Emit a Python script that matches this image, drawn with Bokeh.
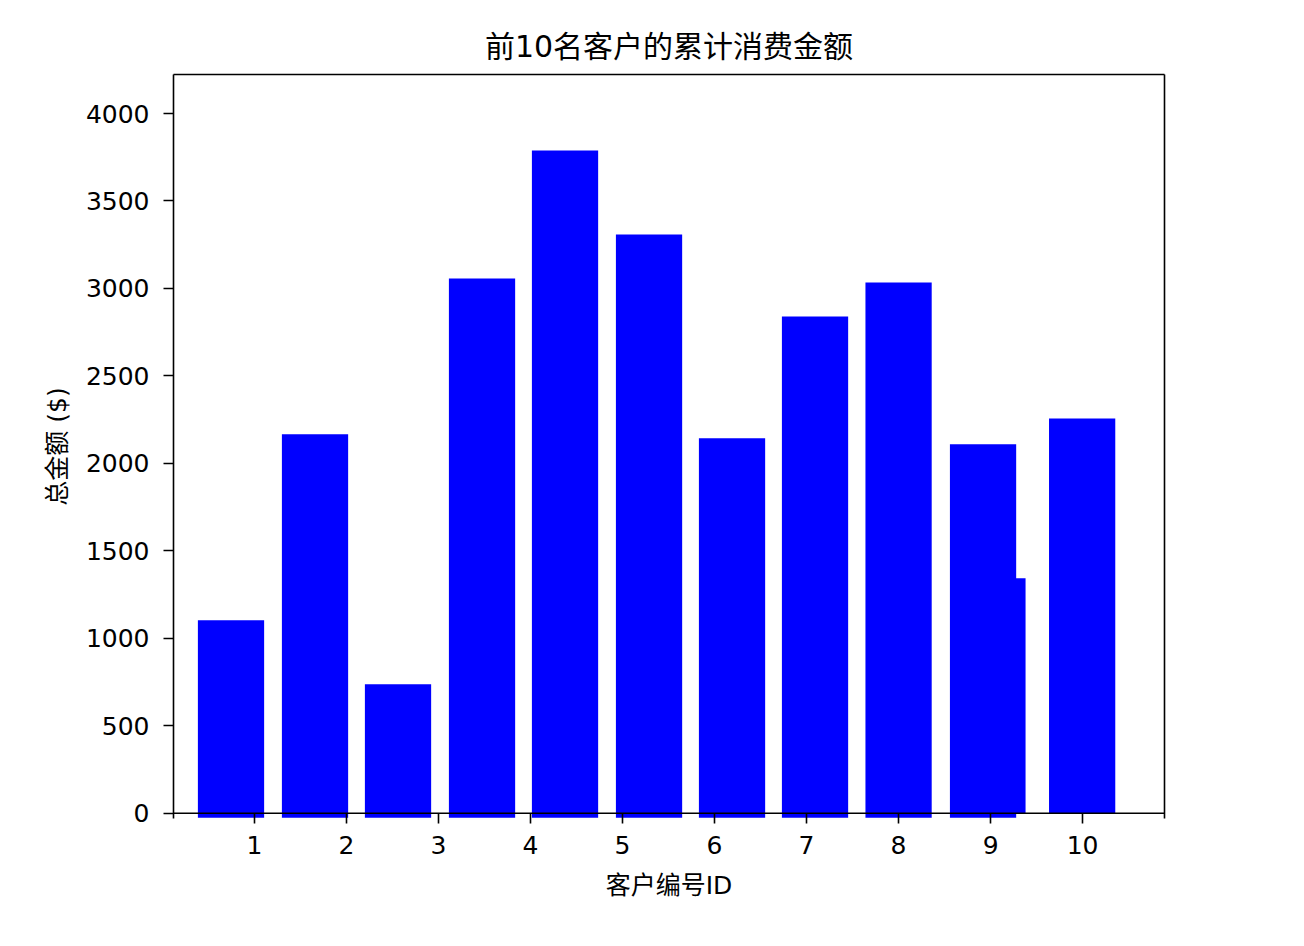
from bokeh.plotting import figure
from bokeh.models import Range1d, LinearAxis, FixedTicker, Span
from bokeh.embed import file_html
from bokeh.resources import INLINE

# ---- data ----
title_text = "前10名客户的累计消费金额"
x_label = "客户编号ID"
y_label = "总金额 ($)"

bar_x = [0.745, 1.658, 2.56, 3.473, 4.375, 5.288, 6.19, 7.092, 8.0, 8.918, 9.02, 9.995]
bar_value = [1103, 2166, 737, 3057, 3789, 3309, 2143, 2840, 3034, 2109, 1343, 2257]
neg_x = [0.745, 1.658, 2.56, 3.473, 4.375, 5.288, 6.19, 7.092, 8.0, 8.918]
neg_value = [-25, -25, -25, -25, -25, -25, -25, -25, -25, -25]

x_ticks = [1, 2, 3, 4, 5, 6, 7, 8, 9, 10]
y_ticks = [0, 500, 1000, 1500, 2000, 2500, 3000, 3500, 4000]

BAR_W = 0.72
FONT = "DejaVu Sans, Noto Sans CJK SC"
TXT = "#000000"

p = figure(
    output_backend="svg", toolbar_location=None,
    frame_width=991, frame_height=744,
    x_range=Range1d(0.12, 10.89), y_range=Range1d(-30, 4223),
    min_border_left=173, min_border_right=118, min_border_top=74, min_border_bottom=110,
    title=title_text,
)
p.outline_line_color = None
p.grid.visible = False
p.background_fill_color = "white"
p.border_fill_color = "white"

p.title.align = "center"
p.title.text_font = FONT
p.title.text_font_size = "30px"
p.title.text_font_style = "normal"
p.title.text_color = TXT
p.title.standoff = 21

p.vbar(x=bar_x, top=bar_value, bottom=0, width=BAR_W, fill_color="#0000ff", line_color=None)
p.vbar(x=neg_x, top=0, bottom=neg_value, width=BAR_W, fill_color="#0000ff", line_color=None)

# x axis line at zero
p.add_layout(Span(location=0, dimension="width", line_color="black", line_width=1.6))

for ax in (p.xaxis[0], p.yaxis[0]):
    ax.axis_line_width = 1.6
    ax.major_tick_line_width = 1.6
    ax.major_tick_out = 10
    ax.major_tick_in = 0
    ax.minor_tick_line_color = None
    ax.major_label_text_font = FONT
    ax.major_label_text_font_size = "25px"
    ax.major_label_text_color = TXT
    ax.major_label_standoff = 14
    ax.axis_label_text_font = FONT
    ax.axis_label_text_font_size = "25px"
    ax.axis_label_text_font_style = "normal"
    ax.axis_label_text_color = TXT
    ax.axis_label_standoff = 11

xa = p.xaxis[0]
xa.ticker = FixedTicker(ticks=x_ticks)
xa.axis_label = x_label
xa.axis_line_color = None
xa.major_tick_in = 5
xa.major_tick_out = 5
xa.major_label_standoff = 12
xa.axis_label_standoff = 14
p.yaxis[0].ticker = FixedTicker(ticks=y_ticks)
p.yaxis[0].axis_label = y_label

# top and right spines
for side in ("right", "above"):
    a = LinearAxis(ticker=FixedTicker(ticks=[]), axis_line_width=1.6,
                   major_label_text_font_size="0px", minor_tick_line_color=None)
    p.add_layout(a, side)

open("out.html", "w").write(file_html(p, INLINE))
